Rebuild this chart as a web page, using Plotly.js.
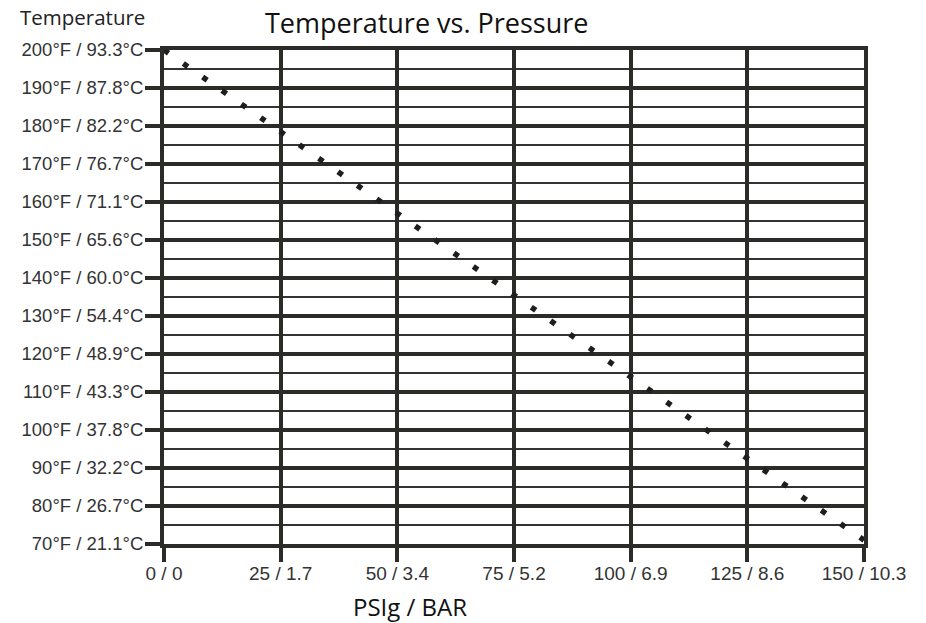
<!DOCTYPE html>
<html>
<head>
<meta charset="utf-8">
<script src="https://cdn.plot.ly/plotly-3.0.1.min.js"></script>
<style>html,body{margin:0;padding:0;background:#fff;}#chart{width:926px;height:623px;}</style>
</head>
<body>
<div id="chart"></div>
<script>
// Data
const pressurePsi = [0, 150];
const temperatureF = [200, 71];
const xTickVals = [0, 25, 50, 75, 100, 125, 150];
const xTickText = ["0 / 0", "25 / 1.7", "50 / 3.4", "75 / 5.2", "100 / 6.9", "125 / 8.6", "150 / 10.3"];
const yTickVals = [70, 80, 90, 100, 110, 120, 130, 140, 150, 160, 170, 180, 190, 200];
const yTickText = ["70°F / 21.1°C", "80°F / 26.7°C", "90°F / 32.2°C", "100°F / 37.8°C", "110°F / 43.3°C",
  "120°F / 48.9°C", "130°F / 54.4°C", "140°F / 60.0°C", "150°F / 65.6°C", "160°F / 71.1°C",
  "170°F / 76.7°C", "180°F / 82.2°C", "190°F / 87.8°C", "200°F / 93.3°C"];

const dark = "#2b2b28";
const yLabelFont = {family: "Liberation Sans", size: 18.5, color: "#333333"};
const xLabelFont = {family: "Liberation Sans", size: 19, color: "#333333"};
const titleFamily = "Open Sans";

const trace = {
  x: pressurePsi, y: temperatureF, type: "scatter", mode: "lines",
  line: {color: "#1e1e1e", width: 5.5, dash: "5.5px,18.1px"},
  hoverinfo: "skip", showlegend: false
};

const layout = {
  width: 926, height: 623,
  margin: {l: 163.7, r: 61.5, t: 50.3, b: 78.7},
  paper_bgcolor: "#ffffff", plot_bgcolor: "#ffffff",
  title: {text: "Temperature vs. Pressure", font: {family: titleFamily, size: 27, color: "#111111"},
          x: 0.4608, xanchor: "center", xref: "container", y: 0.963, yanchor: "middle", yref: "container"},
  xaxis: {
    range: [0, 150], tickvals: xTickVals, ticktext: xTickText, tickfont: xLabelFont,
    showgrid: true, gridcolor: dark, gridwidth: 4,
    showline: true, mirror: true, linecolor: dark, linewidth: 4,
    ticks: "outside", ticklen: 14, tickwidth: 4, tickcolor: dark,
    ticklabelstandoff: -5,
    zeroline: false, fixedrange: true
  },
  yaxis: {
    range: [70, 200], tickvals: yTickVals, ticktext: yTickText, tickfont: yLabelFont,
    showgrid: true, gridcolor: dark, gridwidth: 4,
    minor: {dtick: 5, tick0: 0, showgrid: true, gridcolor: "#333333", gridwidth: 1.5, ticks: ""},
    showline: true, mirror: true, linecolor: dark, linewidth: 4,
    ticks: "outside", ticklen: 15, tickwidth: 4, tickcolor: dark,
    ticklabelstandoff: -2,
    zeroline: false, fixedrange: true
  },
  annotations: [
    {text: "Temperature", xref: "paper", yref: "paper", x: -0.1166, y: 1.0674,
     xanchor: "center", yanchor: "middle", showarrow: false,
     font: {family: titleFamily, size: 20.5, color: "#222222"}},
    {text: "PSIg / BAR", xref: "paper", yref: "paper", x: 0.3515, y: -0.127,
     xanchor: "center", yanchor: "middle", showarrow: false,
     font: {family: titleFamily, size: 24, color: "#111111"}}
  ]
};

Plotly.newPlot("chart", [trace], layout, {displayModeBar: false, staticPlot: true});
</script>
</body>
</html>
